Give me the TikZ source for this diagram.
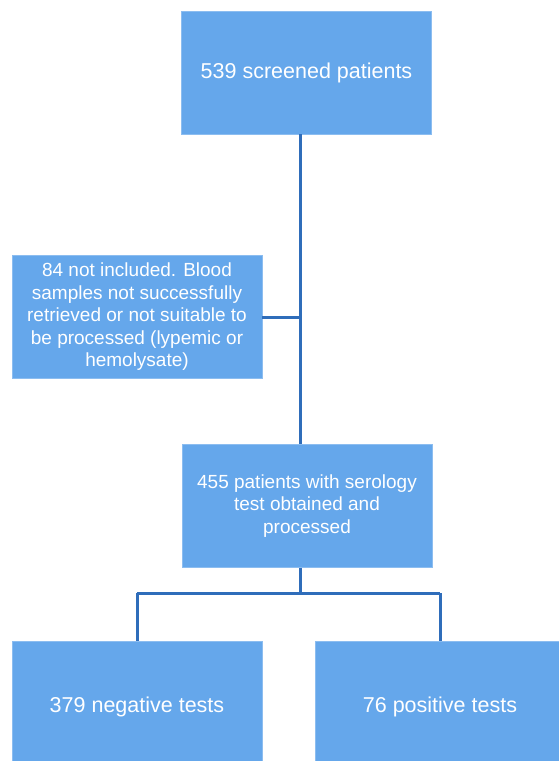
\documentclass[tikz,border=0pt]{standalone}
\usepackage{fontspec}
\setmainfont{Liberation Sans}
\usetikzlibrary{calc}
\definecolor{boxblue}{HTML}{65A7EB}
\definecolor{boxedge}{HTML}{8CBDF0}
\definecolor{lineblue}{HTML}{2F6DBA}
\tikzset{
  flowbox/.style={fill=boxblue, draw=boxedge, line width=0.8pt, text=white,
    minimum width=250, minimum height=123, inner sep=0pt, align=center,
    font=\fontsize{19}{22.5}\selectfont},
  bigtext/.style={font=\fontsize{21.5}{25}\selectfont},
  flowline/.style={lineblue, line width=3pt}
}

\begin{document}
\begin{tikzpicture}[x=1pt, y=-1pt]
			%%%%% START %%%%%
			
			\useasboundingbox (0, 0) rectangle (559, 761);
			\clip (0, 0) rectangle (559, 761);
			\fill[white] (0, 0) rectangle (559, 761);
			
			\node[flowbox, bigtext] (screened) at (306.5, 72.5) {539 screened patients};
			\node[flowbox] (excluded) at (137, 317) {84 not included. Blood\\samples not successfully\\retrieved or not suitable to\\be processed (lypemic or\\hemolysate)};
			\node[flowbox] (serology) at (307, 506) {455 patients with serology\\test obtained and\\processed};
			\node[flowbox, bigtext, minimum height=132] (negative) at (137, 707) {379 negative tests};
			\node[flowbox, bigtext, minimum height=132] (positive) at (440, 707) {76 positive tests};
			
			\coordinate (trunk) at (300, 0);
			\coordinate (branch) at (300, 593);
			
			\draw[flowline] (screened.south -| trunk) -- (serology.north -| trunk);
			\draw[flowline] (excluded.east) -- (excluded.east -| trunk);
			
			\draw[flowline] (serology.south -| trunk) -- (branch);
			\draw[flowline] (branch -| negative.north) -- (branch -| positive.north);
			\draw[flowline] (branch -| negative.north) -- (negative.north);
			\draw[flowline] (branch -| positive.north) -- (positive.north);
			
			%%%%% END %%%%%
\end{tikzpicture}
\end{document}
